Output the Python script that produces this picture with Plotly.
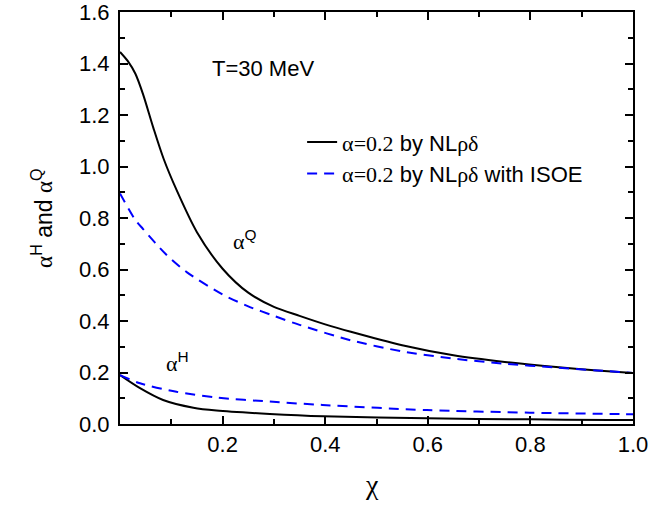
import plotly.graph_objects as go

# alpha^Q, NL rho delta (solid)
xq_solid = [0.0, 0.015, 0.03, 0.045, 0.065, 0.085, 0.11, 0.15, 0.2, 0.25, 0.3, 0.35, 0.4, 0.45, 0.55, 0.65, 0.75, 0.85, 0.93, 1.0]
yq_solid = [1.445, 1.41, 1.36, 1.28, 1.15, 1.03, 0.91, 0.745, 0.603, 0.51, 0.455, 0.42, 0.387, 0.358, 0.306, 0.267, 0.241, 0.221, 0.208, 0.198]

# alpha^Q, with ISOE (dashed)
xq_dash = [0.0, 0.029, 0.045, 0.09, 0.13, 0.2, 0.25, 0.3, 0.35, 0.45, 0.55, 0.65, 0.75, 0.85, 0.93, 1.0]
yq_dash = [0.895, 0.795, 0.757, 0.658, 0.59, 0.503, 0.457, 0.42, 0.385, 0.325, 0.282, 0.254, 0.234, 0.219, 0.208, 0.198]

# alpha^H, NL rho delta (solid)
xh_solid = [0.0, 0.039, 0.084, 0.143, 0.188, 0.292, 0.396, 0.598, 0.799, 0.955, 1.0]
yh_solid = [0.190, 0.139, 0.093, 0.063, 0.052, 0.039, 0.030, 0.022, 0.018, 0.016, 0.016]

# alpha^H, with ISOE (dashed)
xh_dash = [0.0, 0.039, 0.11, 0.188, 0.292, 0.395, 0.598, 0.799, 0.955, 1.0]
yh_dash = [0.190, 0.158, 0.125, 0.103, 0.087, 0.074, 0.054, 0.044, 0.039, 0.038]

x_ticks = [0.2, 0.4, 0.6, 0.8, 1.0]
y_ticks = [0.0, 0.2, 0.4, 0.6, 0.8, 1.0, 1.2, 1.4, 1.6]

SANS = "Liberation Sans"
SERIF = "Liberation Serif"

def serif(s):
    return f"<span style='font-family:{SERIF}'>{s}</span>"

name_solid = serif("α=0.2") + " by NL" + serif("ρδ")
name_dash = serif("α=0.2") + " by NL" + serif("ρδ") + " with ISOE"

solid = dict(color="black", width=2, shape="spline", smoothing=0.8)
dashed = dict(color="#0000ff", width=2, dash="10px,7px", shape="spline", smoothing=0.8)

fig = go.Figure()
fig.add_trace(go.Scatter(x=xq_solid, y=yq_solid, mode="lines", line=solid, name=name_solid))
fig.add_trace(go.Scatter(x=xq_dash, y=yq_dash, mode="lines", line=dashed, name=name_dash))
fig.add_trace(go.Scatter(x=xh_solid, y=yh_solid, mode="lines", line=solid, showlegend=False))
fig.add_trace(go.Scatter(x=xh_dash, y=yh_dash, mode="lines", line=dashed, showlegend=False))

axis_common = dict(
    showline=True, linecolor="black", linewidth=2, mirror="ticks",
    ticks="inside", ticklen=8, tickwidth=1.5, tickcolor="black",
    showgrid=False, zeroline=False, automargin=False,
    ticklabeloverflow="allow",
    tickfont=dict(family=SANS, size=22, color="black"),
)
minor = dict(dtick=0.1, tick0=0, ticks="inside", ticklen=5, tickwidth=1.5, tickcolor="black", showgrid=False)

fig.update_xaxes(range=[0, 1.0], tickvals=x_ticks, tickformat=".1f", minor=minor, **axis_common)
fig.update_yaxes(range=[0, 1.6], tickvals=y_ticks, tickformat=".1f", minor=minor,
                 ticklabelstandoff=4, **axis_common)

# axis titles
fig.add_annotation(x=0.491, y=-0.19, xref="paper", yref="paper", text=serif("χ"), showarrow=False,
                   font=dict(family=SERIF, size=28, color="black"))
fig.add_annotation(x=-0.185, y=0.498, xref="paper", yref="paper", textangle=-90,
                   text=serif("α") + "<sup>H</sup> and " + serif("α") + "<sup>Q</sup>", showarrow=False,
                   font=dict(family=SANS, size=23, color="black"))

fig.add_annotation(x=0.175, y=1.38, xref="x", yref="y", text="T=30 MeV", showarrow=False,
                   xanchor="left", yanchor="middle", font=dict(family=SANS, size=22, color="black"))
fig.add_annotation(x=0.244, y=0.714, xref="x", yref="y", text=serif("α") + "<sup>Q</sup>", showarrow=False,
                   font=dict(family=SANS, size=22, color="black"))
fig.add_annotation(x=0.113, y=0.241, xref="x", yref="y", text=serif("α") + "<sup>H</sup>", showarrow=False,
                   font=dict(family=SANS, size=22, color="black"))

fig.update_layout(
    width=652, height=511,
    margin=dict(l=120, r=19, t=12, b=87),
    plot_bgcolor="white", paper_bgcolor="white",
    legend=dict(x=0.355, y=0.735, xanchor="left", yanchor="top",
                bgcolor="rgba(0,0,0,0)", borderwidth=0, tracegroupgap=0,
                font=dict(family=SANS, size=22, color="black")),
    font=dict(family=SANS, color="black"),
)

fig.write_html("out.html", config={"displayModeBar": False},
               post_script="document.body.style.margin='0';document.body.style.overflow='hidden';")
